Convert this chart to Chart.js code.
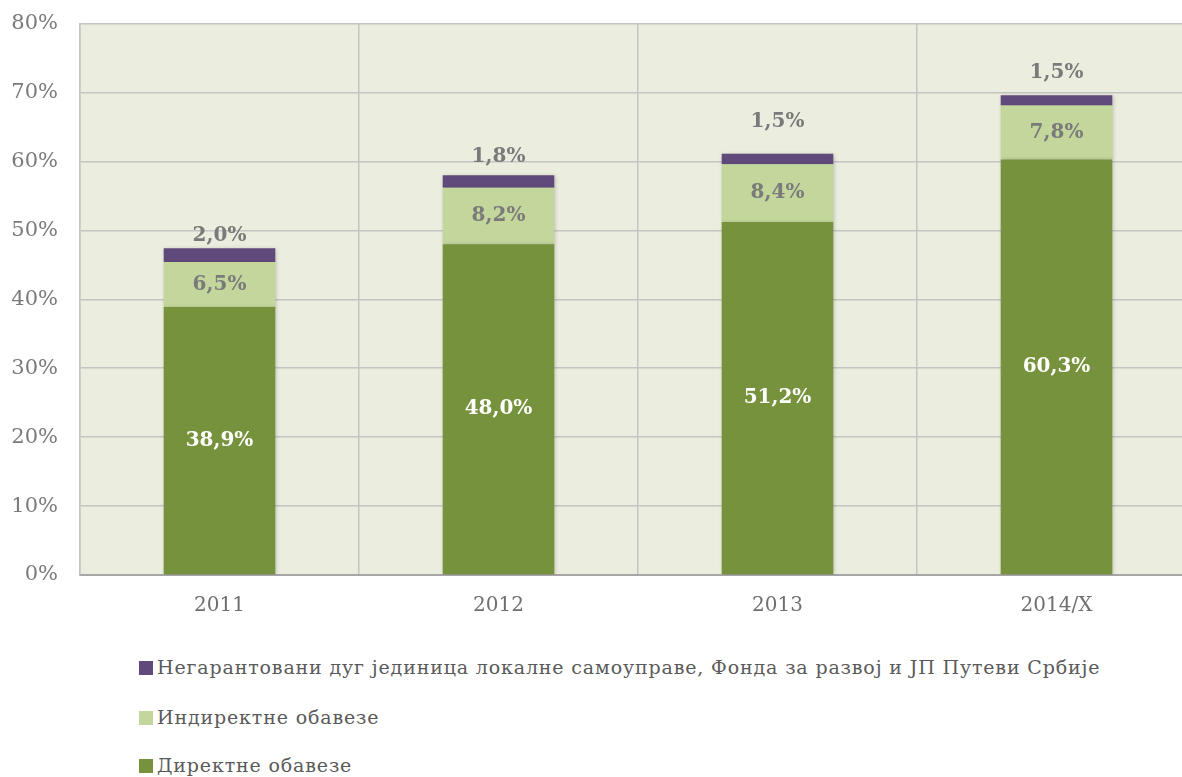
<!DOCTYPE html>
<html>
<head>
<meta charset="utf-8">
<script src="https://cdn.jsdelivr.net/npm/chart.js@4/dist/chart.umd.min.js"></script>
<style>
  html, body { margin: 0; padding: 0; background: #ffffff; width: 1182px; height: 777px; overflow: hidden; }
  #wrap { position: relative; width: 1182px; height: 777px; overflow: hidden; }
  canvas { position: absolute; left: 0; top: -11px; }
  .leg { position: absolute; left: 139px; font-family: 'DejaVu Serif', serif; font-size: 19px; letter-spacing: 0.85px; color: #5a5a5a; white-space: nowrap; line-height: 20px; }
  .leg span.box { display: inline-block; width: 14px; height: 14px; vertical-align: -1px; margin-right: 4px; }
</style>
</head>
<body>
<div id="wrap">
  <canvas id="c" width="1200" height="651"></canvas>
  <div id="legend"></div>
</div>
<script>
const categories = ['2011', '2012', '2013', '2014/X'];
const direct = [38.9, 48.0, 51.2, 60.3];
const indirect = [6.5, 8.2, 8.4, 7.8];
const nonGuaranteed = [2.0, 1.8, 1.5, 1.5];
const seriesNames = [
  'Директне обавезе',
  'Индиректне обавезе',
  'Негарантовани дуг јединица локалне самоуправе, Фонда за развој и ЈП Путеви Србије'
];
const yTicks = [0, 10, 20, 30, 40, 50, 60, 70, 80];

const colors = ['#77923C', '#C3D69B', '#604A7B'];
const topLabelOffsets = [12, 18, 32, 22];

function fmt(v) { return v.toFixed(1).replace('.', ',') + '%'; }

const bgPlugin = {
  id: 'plotBg',
  beforeDraw(chart) {
    const { ctx, chartArea: a } = chart;
    ctx.save();
    ctx.fillStyle = '#EBEEDF';
    ctx.fillRect(a.left, a.top, a.right - a.left, a.bottom - a.top);
    ctx.restore();
  },
  beforeDatasetsDraw(chart) {
    const ctx = chart.ctx;
    ctx.save();
    ctx.shadowColor = 'rgba(0,0,0,0.22)';
    ctx.shadowBlur = 4;
    ctx.shadowOffsetX = 1;
    ctx.shadowOffsetY = 1;
  },
  afterDatasetsDraw(chart) {
    const ctx = chart.ctx;
    ctx.restore();
    ctx.save();
    ctx.font = 'bold 20px "DejaVu Serif", serif';
    ctx.textAlign = 'center';
    ctx.textBaseline = 'middle';
    chart.data.datasets.forEach((ds, i) => {
      const meta = chart.getDatasetMeta(i);
      meta.data.forEach((el, j) => {
        const p = el.getProps(['x', 'y', 'base'], true);
        const txt = fmt(ds.data[j]);
        if (i === 0) {
          ctx.fillStyle = '#ffffff';
          ctx.fillText(txt, p.x, (p.y + p.base) / 2);
        } else if (i === 1) {
          ctx.fillStyle = '#7a7a7a';
          ctx.fillText(txt, p.x, (p.y + p.base) / 2);
        } else {
          ctx.fillStyle = '#7a7a7a';
          ctx.fillText(txt, p.x, p.y - topLabelOffsets[j]);
        }
      });
    });
    ctx.restore();
  }
};

const datasets = [direct, indirect, nonGuaranteed].map((d, i) => ({
  label: seriesNames[i],
  data: d,
  backgroundColor: colors[i],
  borderWidth: 0,
  categoryPercentage: 1.0,
  barPercentage: 0.4
}));

new Chart(document.getElementById('c'), {
  type: 'bar',
  data: { labels: categories, datasets },
  options: {
    responsive: false,
    animation: false,
    devicePixelRatio: 1,
    layout: { padding: { top: 13, right: 4, left: 0, bottom: 0 } },
    plugins: { legend: { display: false }, tooltip: { enabled: false } },
    scales: {
      x: {
        stacked: true,
        afterFit(s) { s.height = 65; },
        grid: { color: '#C4C4C4', lineWidth: 1.5, drawTicks: false, offset: true },
        border: { color: '#A6A6A6', width: 2 },
        ticks: { color: '#6f6f6f', font: { family: '"DejaVu Serif", serif', size: 20 }, padding: 19 }
      },
      y: {
        stacked: true,
        min: 0, max: 80,
        afterFit(s) { s.width = 80; },
        afterBuildTicks(s) { s.ticks = yTicks.map(v => ({ value: v })); },
        grid: { color: '#C4C4C4', lineWidth: 1.5, drawTicks: false },
        border: { color: '#C4C4C4', width: 1.5 },
        ticks: { color: '#7a7a7a', font: { family: '"DejaVu Serif", serif', size: 21 }, padding: 22,
                 callback: v => v + '%' }
      }
    }
  },
  plugins: [bgPlugin]
});

// legend (reverse order, vertical list)
const legend = document.getElementById('legend');
const legendY = [657, 707, 755];
[2, 1, 0].forEach((idx, k) => {
  const d = document.createElement('div');
  d.className = 'leg';
  d.style.top = legendY[k] + 'px';
  const b = document.createElement('span');
  b.className = 'box';
  b.style.background = colors[idx];
  d.appendChild(b);
  d.appendChild(document.createTextNode(seriesNames[idx]));
  legend.appendChild(d);
});
</script>
</body>
</html>
